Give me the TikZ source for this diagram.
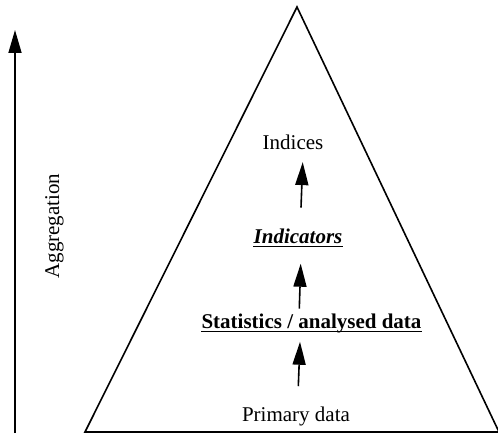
\documentclass[tikz,border=0pt]{standalone}
\usepackage{fontspec}
\setmainfont{Liberation Serif}
\usetikzlibrary{arrows.meta,calc}
\begin{document}
\begin{tikzpicture}[x=1pt,y=1pt,
  lbl/.style={inner sep=0pt,anchor=base,font=\fontsize{21}{25}\selectfont},
  upar/.style={line width=1.6pt,-{Triangle[length=23pt,width=13pt]}},
  uline/.style={line width=1.4pt}]
\useasboundingbox (0,0) rectangle (498,434);
% pyramid
\draw[line width=1.6pt,line join=miter] (85,2) -- (297,427) -- (499,2) -- cycle;
% aggregation axis
\coordinate (axbot) at (15,1);
\coordinate (axtop) at (15,404);
\draw[upar] (axbot) -- (axtop);
\node[lbl,rotate=90] (agg) at (59,208) {Aggregation};
% levels
\node[lbl] (prim) at (296,13) {Primary data};
\node[lbl,font=\fontsize{21}{25}\selectfont\bfseries] (stat) at (311.5,106) {Statistics / analysed data};
\node[lbl,font=\fontsize{21}{25}\selectfont\bfseries\itshape] (ind) at (298,190) {Indicators};
\node[lbl] (idx) at (293,284) {Indices};
% underlines
\draw[uline] ($(stat.base west)+(0,-3.5)$) -- ($(stat.base east)+(0,-3.5)$);
\draw[uline] ($(ind.base west)+(0,-2.5)$) -- ($(ind.base east)+(0,-2.5)$);
% arrows between levels
\draw[upar] ($(prim.north)+(2.3,20)$) -- ($(stat.south)+(-11.5,-9)$);
\draw[upar] ($(stat.north)+(-12.2,4.7)$) -- ($(ind.south)+(2.7,-19.3)$);
\draw[upar] ($(ind.north)+(3,21.7)$) -- ($(idx.south)+(9.7,-11.7)$);
\end{tikzpicture}
\end{document}
